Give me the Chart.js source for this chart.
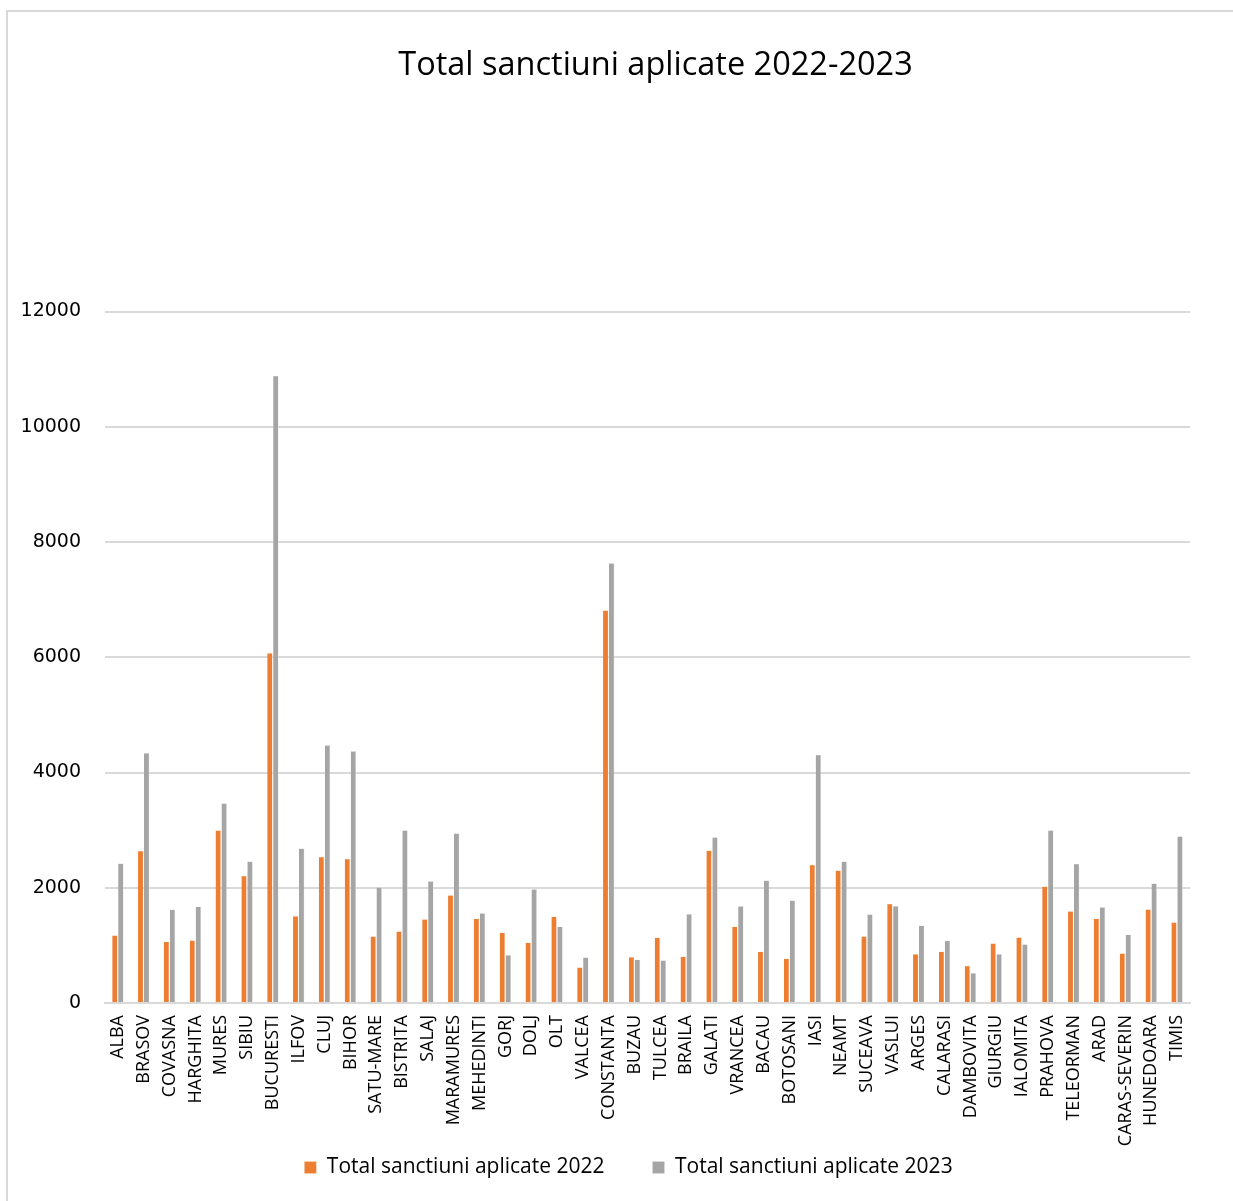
<!DOCTYPE html>
<html>
<head>
<meta charset="utf-8">
<title>Total sanctiuni aplicate 2022-2023</title>
<script src="https://cdn.jsdelivr.net/npm/chart.js@4.4.1/dist/chart.umd.min.js"></script>
<style>
  html, body { margin: 0; padding: 0; background: #fff; }
  #wrap { position: relative; width: 1233px; height: 1201px; }
  #frame {
    position: absolute; left: 6px; top: 10px; right: -4px; bottom: -4px;
    border-left: 2px solid #d9d9d9; border-top: 2px solid #d9d9d9;
    pointer-events: none;
  }
</style>
</head>
<body>
<div id="wrap">
  <canvas id="sanctiuni" width="1233" height="1201"></canvas>
  <div id="frame"></div>
</div>
<script>
// ===== Data =====

const judete = [
  "ALBA", "BRASOV", "COVASNA", "HARGHITA", "MURES", "SIBIU", "BUCURESTI", "ILFOV",
  "CLUJ", "BIHOR", "SATU-MARE", "BISTRITA", "SALAJ", "MARAMURES", "MEHEDINTI", "GORJ",
  "DOLJ", "OLT", "VALCEA", "CONSTANTA", "BUZAU", "TULCEA", "BRAILA", "GALATI",
  "VRANCEA", "BACAU", "BOTOSANI", "IASI", "NEAMT", "SUCEAVA", "VASLUI", "ARGES",
  "CALARASI", "DAMBOVITA", "GIURGIU", "IALOMITA", "PRAHOVA", "TELEORMAN", "ARAD",
  "CARAS-SEVERIN", "HUNEDOARA", "TIMIS"
];

const sanctiuni2022 = [
  1177, 2643, 1068, 1090, 2998, 2208, 6076, 1513,
  2539, 2504, 1160, 1247, 1456, 1873, 1468, 1224,
  1050, 1502, 621, 6817, 800, 1137, 807, 2650,
  1329, 894, 772, 2400, 2302, 1160, 1722, 852,
  894, 650, 1038, 1143, 2024, 1595, 1468,
  864, 1629, 1403
];

const sanctiuni2023 = [
  2424, 4342, 1624, 1676, 3467, 2459, 10886, 2685,
  4476, 4372, 2012, 2998, 2116, 2946, 1560, 835,
  1977, 1329, 795, 7634, 755, 743, 1548, 2876,
  1682, 2128, 1781, 4308, 2459, 1542, 1687, 1346,
  1085, 522, 852, 1021, 2998, 2417, 1664,
  1189, 2076, 2894
];

const yTicks = [0, 2000, 4000, 6000, 8000, 10000, 12000];

// ===== Box nudges =====
// title sits a little right of the plot centre, legend a little left of it;
// the legend is also pulled up into the free space under the rotated labels

const boxNudge = {
  id: "boxNudge",
  afterLayout(chart) {
    const t = chart.titleBlock;
    const l = chart.legend;
    if (t) { t.left += 8; t.right += 8; }
    if (l) {
      l.left -= 19; l.right -= 19;
      l.top -= 44;
    }
  }
};

// ===== Chart =====

const ctx = document.getElementById("sanctiuni").getContext("2d");

new Chart(ctx, {
  type: "bar",
  data: {
    labels: judete,
    datasets: [
      {
        label: "Total sanctiuni aplicate 2022",
        data: sanctiuni2022,
        backgroundColor: "#ed7d31",
        borderColor: "#fbe3d2",
        borderWidth: { left: 0, right: 0.6, top: 0.6, bottom: 0 },
        borderSkipped: false,
        categoryPercentage: 0.46,
        barPercentage: 0.92
      },
      {
        label: "Total sanctiuni aplicate 2023",
        data: sanctiuni2023,
        backgroundColor: "#a5a5a5",
        borderColor: "#e4e4e4",
        borderWidth: { left: 0, right: 0.6, top: 0.6, bottom: 0 },
        borderSkipped: false,
        categoryPercentage: 0.46,
        barPercentage: 0.92
      }
    ]
  },
  plugins: [boxNudge],
  options: {
    responsive: false,
    animation: false,
    layout: { padding: { left: 12, right: 43, top: 0, bottom: 0 } },
    plugins: {
      title: {
        display: true,
        text: "Total sanctiuni aplicate 2022-2023",
        fullSize: false,
        color: "#000",
        font: { family: "Open Sans", size: 32.5, weight: "normal" },
        padding: { top: 46.5, bottom: 226 }
      },
      legend: {
        position: "bottom",
        fullSize: false,
        maxHeight: 48,
        labels: {
          color: "#000",
          font: { family: "Open Sans", size: 21 },
          boxWidth: 12,
          boxHeight: 12,
          padding: 48
        }
      },
      tooltip: { enabled: false }
    },
    scales: {
      x: {
        offset: true,
        grid: { display: false, drawTicks: false },
        border: { display: true, color: "#d9d9d9", width: 2 },
        ticks: {
          autoSkip: false,
          minRotation: 90,
          maxRotation: 90,
          padding: 12,
          color: "#000",
          font: { family: "Open Sans", size: 18 }
        },
        afterFit: (scale) => { scale.height = 150; }
      },
      y: {
        min: 0,
        max: 12000,
        afterBuildTicks: (scale) => {
          scale.ticks = yTicks.map(v => ({ value: v }));
        },
        grid: { color: "#d9d9d9", lineWidth: 2, drawTicks: false },
        border: { display: false },
        ticks: {
          padding: 24,
          color: "#000",
          font: { family: "DejaVu Sans", size: 19 },
          callback: (v) => String(v)
        },
        afterFit: (scale) => { scale.width = 93; }
      }
    }
  }
});
</script>
</body>
</html>
